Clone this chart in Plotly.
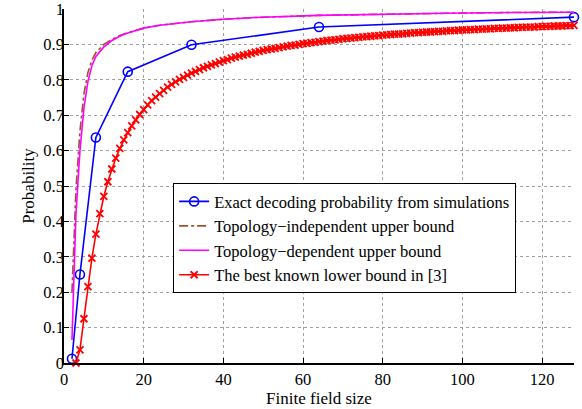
import plotly.graph_objects as go

# Exact decoding probability from simulations
q_sim = [2, 4, 8, 16, 32, 64, 128]
p_sim = [0.012, 0.25, 0.637, 0.823, 0.899, 0.949, 0.977]

# Topology-independent upper bound
q_ind = [2, 3, 4, 5, 6, 7, 8, 10, 12, 14, 16, 20, 24, 32, 40, 48, 64, 80, 96, 112, 128]
p_ind = [0.20, 0.49, 0.655, 0.76, 0.82, 0.855, 0.877, 0.900, 0.914, 0.925, 0.933,
         0.946, 0.954, 0.964, 0.971, 0.976, 0.982, 0.986, 0.988, 0.990, 0.991]

# Topology-dependent upper bound
q_dep = [2, 3, 4, 5, 6, 7, 8, 10, 12, 14, 16, 20, 24, 32, 40, 48, 64, 80, 96, 112, 128]
p_dep = [0.065, 0.42, 0.60, 0.72, 0.795, 0.84, 0.866, 0.893, 0.911, 0.923, 0.932,
         0.946, 0.954, 0.964, 0.971, 0.976, 0.982, 0.986, 0.988, 0.990, 0.991]

# The best known lower bound in [3]
q_low = list(range(3, 129))
p_low = [0.000, 0.037, 0.125, 0.216, 0.296, 0.364, 0.422, 0.471, 0.512, 0.548,
         0.579, 0.606, 0.630, 0.651, 0.670, 0.687, 0.702, 0.716, 0.729, 0.741,
         0.751, 0.761, 0.770, 0.779, 0.787, 0.794, 0.801, 0.807, 0.813, 0.819,
         0.824, 0.829, 0.834, 0.838, 0.842, 0.846, 0.850, 0.854, 0.857, 0.861,
         0.864, 0.867, 0.870, 0.872, 0.875, 0.878, 0.880, 0.883, 0.885, 0.887,
         0.889, 0.891, 0.893, 0.895, 0.897, 0.898, 0.900, 0.902, 0.903, 0.905,
         0.906, 0.908, 0.909, 0.911, 0.912, 0.913, 0.914, 0.916, 0.917, 0.918,
         0.919, 0.920, 0.921, 0.922, 0.923, 0.924, 0.925, 0.926, 0.927, 0.928,
         0.929, 0.929, 0.930, 0.931, 0.932, 0.933, 0.933, 0.934, 0.935, 0.935,
         0.936, 0.937, 0.937, 0.938, 0.939, 0.939, 0.940, 0.941, 0.941, 0.942,
         0.942, 0.943, 0.943, 0.944, 0.944, 0.945, 0.945, 0.946, 0.946, 0.947,
         0.947, 0.948, 0.948, 0.949, 0.949, 0.949, 0.950, 0.950, 0.951, 0.951,
         0.952, 0.952, 0.952, 0.953, 0.953, 0.954]

x_ticks = [0, 20, 40, 60, 80, 100, 120]
y_ticks = [0, 0.1, 0.2, 0.3, 0.4, 0.5, 0.6, 0.7, 0.8, 0.9, 1]
y_ticktext = ["0", "0.1", "0.2", "0.3", "0.4", "0.5", "0.6", "0.7", "0.8", "0.9", "1"]

FONT = "Liberation Serif"

fig = go.Figure()
fig.add_trace(go.Scatter(
    x=q_sim, y=p_sim, mode="lines+markers",
    name="Exact decoding probability from simulations",
    line=dict(color="#0000ff", width=1.6),
    marker=dict(symbol="circle-open", size=9, color="#0000ff", line=dict(width=1.6)),
    cliponaxis=False))
fig.add_trace(go.Scatter(
    x=q_ind, y=p_ind, mode="lines",
    name="Topology\u2212independent upper bound",
    line=dict(color="#a0522d", width=1.6, dash="dashdot")))
fig.add_trace(go.Scatter(
    x=q_dep, y=p_dep, mode="lines",
    name="Topology\u2212dependent upper bound",
    line=dict(color="#ff00ff", width=1.6)))
fig.add_trace(go.Scatter(
    x=q_low, y=p_low, mode="lines+markers",
    name="The best known lower bound in [3]",
    line=dict(color="#ff0000", width=1.6),
    marker=dict(symbol="x-thin", size=7, color="#ff0000", line=dict(width=1.8, color="#ff0000")),
    cliponaxis=False))

fig.update_layout(
    width=582, height=409,
    margin=dict(l=64, r=8, t=9, b=46),
    paper_bgcolor="white", plot_bgcolor="white",
    font=dict(family=FONT, size=16, color="black"),
    showlegend=True,
    legend=dict(x=0.214, y=0.508, xanchor="left", yanchor="top",
                bgcolor="white", bordercolor="black", borderwidth=1,
                font=dict(family=FONT, size=16.5), tracegroupgap=0,
                itemwidth=30),
    xaxis=dict(range=[0, 128], tickvals=x_ticks, showgrid=True,
               gridcolor="#a0a0a0", griddash="dot", gridwidth=1,
               showline=True, linecolor="black", linewidth=1.5,
               ticks="inside", ticklen=5, tickcolor="black", tickwidth=1,
               zeroline=False, mirror=False, automargin=False,
               ticklabeloverflow="allow",
               tickfont=dict(family=FONT, size=16.5),
               title=dict(text="Finite field size", font=dict(family=FONT, size=17), standoff=0)),
    yaxis=dict(range=[0, 1], tickvals=y_ticks, ticktext=y_ticktext, showgrid=True,
               gridcolor="#a0a0a0", griddash="dot", gridwidth=1,
               showline=True, linecolor="black", linewidth=1.5,
               ticks="inside", ticklen=5, tickcolor="black", tickwidth=1,
               zeroline=False, mirror=False, automargin=False,
               ticklabeloverflow="allow", ticklabelstandoff=-5,
               tickfont=dict(family=FONT, size=16.5),
               title=dict(text="Probability", font=dict(family=FONT, size=17), standoff=4)),
)

fig.write_html("out.html", config={"displayModeBar": False},
               post_script="document.body.style.margin='0';")
